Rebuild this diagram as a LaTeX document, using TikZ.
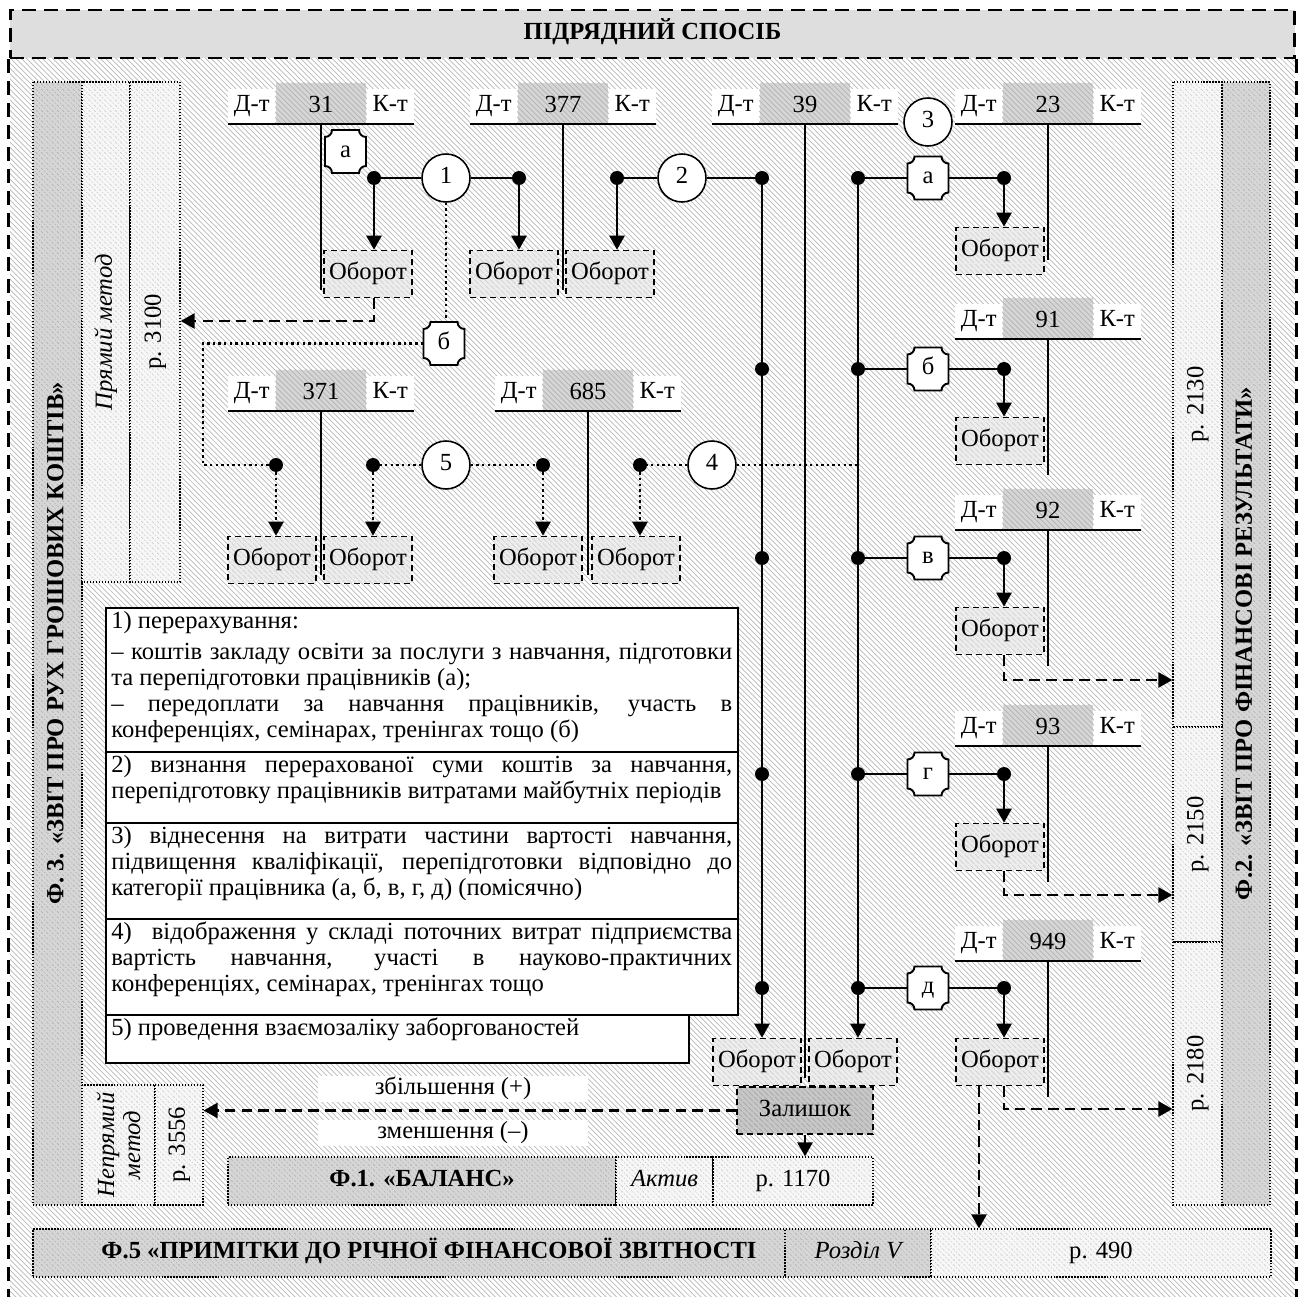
\documentclass[tikz,border=0pt]{standalone}
\usepackage{fontspec}
\setmainfont{Liberation Serif}
\usetikzlibrary{arrows.meta,calc,patterns}
\tolerance=10000
\hyphenpenalty=10000

\tikzset{
  oneline/.style={text height=9.6pt, text depth=3pt},
  hatch/.style={pattern=north west lines, pattern color=black!28},
  grayhatch/.style={preaction={fill=black!16}, pattern=north west lines, pattern color=black!30},
  lighthatch/.style={preaction={fill=black!3}, pattern=north west lines, pattern color=black!20},
  frame/.style={line width=1.6pt, dash pattern=on 8pt off 4.5pt},
  titlebox/.style={draw, frame, fill=black!13, font=\bfseries, minimum width=25.7cm, minimum height=0.96cm, inner sep=0pt, oneline},
  form/.style={draw, line width=0.7pt, densely dotted, inner sep=0pt},
  col/.style={form, rotate=90, oneline},
  row/.style={form, minimum height=0.96cm, oneline},
  acnum/.style={grayhatch, minimum width=1.8cm, minimum height=0.82cm, inner sep=0pt, text height=13.6pt, text depth=3pt},
  acside/.style={fill=white, minimum width=0.94cm, minimum height=0.7cm, inner sep=0pt, oneline},
  acline/.style={line width=0.9pt},
  obor/.style={draw, line width=0.9pt, dash pattern=on 3.5pt off 2.2pt, preaction={fill=black!7}, pattern=north west lines, pattern color=black!18, minimum width=1.76cm, minimum height=0.94cm, inner sep=0pt, oneline},
  zal/.style={draw, line width=0.9pt, dash pattern=on 3.5pt off 2.2pt, preaction={fill=black!22}, pattern=north west lines, pattern color=black!35, minimum width=2.72cm, minimum height=0.94cm, inner sep=0pt, oneline},
  numc/.style={circle, draw, fill=white, line width=0.9pt, minimum size=0.96cm, inner sep=0pt, oneline},
  dot/.style={circle, fill, minimum size=0.28cm, inner sep=0pt},
  lettr/.style={minimum width=0.82cm, minimum height=0.86cm, inner sep=0pt, oneline},
  lettrline/.style={line width=1.1pt, fill=white},
  conn/.style={line width=1.4pt},
  arr/.style={conn, -{Triangle[length=0.28cm, width=0.3cm]}},
  dasharr/.style={arr, dash pattern=on 6pt off 3.5pt},
  dotl/.style={line width=1.4pt, dash pattern=on 1.4pt off 1.8pt},
  dotarr/.style={dotl, -{Triangle[length=0.28cm, width=0.3cm]}},
  legbox/.style={draw, fill=white, line width=1.1pt, inner sep=0pt, anchor=north west},
  legtext/.style={anchor=north west, text width=12.42cm, align=justify, inner xsep=0.12cm, inner ysep=0.08cm},
  tag/.style={fill=white, minimum width=5.4cm, minimum height=0.52cm, inner sep=0pt, oneline}
}

% letter box with hollowed corners: name, position, letter
\newcommand\lettrbox[3]{%
  \draw[lettrline] (#2) ++(-20.5,21.5) ++(0,-7) arc[start angle=270, end angle=360, radius=7]
    -- ++(27,0) arc[start angle=180, end angle=270, radius=7]
    -- ++(0,-29) arc[start angle=90, end angle=180, radius=7]
    -- ++(-27,0) arc[start angle=0, end angle=90, radius=7] -- cycle;
  \node[lettr] (#1) at (#2) {#3};}

\begin{document}
\begin{tikzpicture}[x=0.02cm, y=0.02cm]
\fontsize{14}{14.8}\selectfont
\useasboundingbox (0,0) rectangle (1302,-1297);

% background and frame
\fill[hatch] (10,-58) rectangle (1295,-1297);
\node[titlebox] (title) at (652.5,-34) {ПІДРЯДНИЙ СПОСІБ};
\coordinate (bot) at (0,-1297);
\draw[frame] (title.south west) -- (title.south west |- bot);
\draw[frame] (title.south east) -- (title.south east |- bot);

% Ф.3 on the left
\node[col, grayhatch, minimum width=22.46cm, minimum height=0.98cm, font=\bfseries] (f3) at (57.5,-643.5) {Ф. 3. «ЗВІТ ПРО РУХ ГРОШОВИХ КОШТІВ»};
\node[col, lighthatch, minimum width=10cm, minimum height=0.96cm, font=\itshape] (pm) at (106,-332) {Прямий метод};
\node[col, lighthatch, minimum width=10cm, minimum height=1cm] (p3100) at (155,-332) {р. 3100};
\node[form, rotate=90, lighthatch, minimum width=2.4cm, minimum height=1.46cm, font=\itshape, align=center] (npm) at (118.5,-1145) {Непрямий\\метод};
\node[col, lighthatch, minimum width=2.4cm, minimum height=0.96cm] (p3556) at (179,-1145) {р. 3556};

% Ф.2 on the right
\node[col, grayhatch, minimum width=22.46cm, minimum height=0.96cm, font=\bfseries] (f2) at (1246,-643.5) {Ф.2. «ЗВІТ ПРО ФІНАНСОВІ РЕЗУЛЬТАТИ»};
\node[col, lighthatch, minimum width=12.9cm, minimum height=0.98cm] (p2130) at (1197.5,-404.5) {р. 2130};
\node[col, lighthatch, minimum width=4.3cm, minimum height=0.98cm] (p2150) at (1197.5,-834.5) {р. 2150};
\node[col, lighthatch, minimum width=5.26cm, minimum height=0.98cm] (p2180) at (1197.5,-1073.5) {р. 2180};

% Ф.1 and Ф.5 at the bottom
\node[row, grayhatch, minimum width=7.76cm, font=\bfseries] (bal) at (422,-1181) {Ф.1. «БАЛАНС»};
\node[row, lighthatch, minimum width=1.94cm, font=\itshape] (akt) at (664.5,-1181) {Актив};
\node[row, lighthatch, minimum width=3.2cm] (p1170) at (793,-1181) {р. 1170};
\node[row, grayhatch, minimum width=15.04cm, font=\bfseries] (f5) at (409,-1253) {\hspace*{0.8cm}Ф.5 «ПРИМІТКИ ДО РІЧНОЇ ФІНАНСОВОЇ ЗВІТНОСТІ};
\node[row, grayhatch, minimum width=2.92cm, font=\itshape] (rozd) at (858,-1253) {Розділ V};
\node[row, lighthatch, minimum width=6.8cm] (p490) at (1101,-1253) {р. 490};

% T-accounts
\foreach \nm/\x/\y/\num/\len in {t31/321/124/31/166, t377/563/124/377/166, t39/805/124/39/954,
    t23/1048/124/23/136, t91/1048/339/91/136, t92/1048/530/92/136, t93/1048/746/93/136,
    t949/1048/961/949/136, t371/321/411/371/164, t685/588/411/685/164} {
  \node[acnum, anchor=south] (\nm) at (\x,-\y) {\num};
  \node[acside, anchor=south east] (\nm-d) at (\nm.south west) {Д-т};
  \node[acside, anchor=south west] (\nm-k) at (\nm.south east) {К-т};
  \draw[acline] (\nm-d.south west) -- (\nm-k.south east);
  \draw[acline] (\nm.south) -- ++(0,-\len);
}

% legend
\node[legbox, minimum width=11.66cm, minimum height=0.96cm] (leg5) at (105,-1014) {};
\node[legbox, minimum width=12.64cm, minimum height=2.88cm] (leg1) at (105,-607) {};
\node[legbox, minimum width=12.64cm, minimum height=1.42cm] (leg2) at (105,-751) {};
\node[legbox, minimum width=12.64cm, minimum height=1.92cm] (leg3) at (105,-822) {};
\node[legbox, minimum width=12.64cm, minimum height=1.92cm] (leg4) at (105,-918) {};
\node[legtext] (leg1t) at (leg1.north west) {1) перерахування:\\[3pt]
  – коштів закладу освіти за послуги з навчання, підготовки\linebreak
  та перепідготовки працівників (а);\\
  – передоплати за навчання працівників, участь в\linebreak
  конференціях, семінарах, тренінгах тощо (б)};
\node[legtext] (leg2t) at (leg2.north west) {2) визнання перерахованої суми коштів за навчання,\linebreak
  перепідготовку працівників витратами майбутніх періодів};
\node[legtext] (leg3t) at (leg3.north west) {3) віднесення на витрати частини вартості навчання,\linebreak
  підвищення кваліфікації, перепідготовки відповідно до\linebreak
  категорії працівника (а, б, в, г, д) (помісячно)};
\node[legtext] (leg4t) at (leg4.north west) {4)\ \ відображення у складі поточних витрат підприємства\linebreak
  вартість навчання, участі в науково-практичних\linebreak
  конференціях, семінарах, тренінгах тощо};
\node[legtext, text width=11.4cm] (leg5t) at (leg5.north west) {5) проведення взаємозаліку заборгованостей};

% turnover boxes
\foreach \nm/\x/\y in {ob31/368/274, ob377d/514/274, ob377k/610/274, ob371d/272/560, ob371k/368/560,
    ob685d/538/560, ob685k/636/560, ob39d/757/1062, ob39k/853/1062, ob23/1000/251,
    ob91/1000/441, ob92/1000/631, ob93/1000/847, ob949/1000/1062}
  \node[obor] (\nm) at (\x,-\y) {Оборот};

\node[zal] (rest) at (805,-1110.5) {Залишок};
\node[tag] (inc) at (453,-1089) {збільшення (+)};
\node[tag] (dec) at (453,-1133) {зменшення (–)};

% operations
\foreach \nm/\x/\y/\t in {c1/446/178/1, c2/682/178/2, c3/928/122/3, c4/712/465/4, c5/446/465/5}
  \node[numc] (\nm) at (\x,-\y) {\t};

\foreach \nm/\x/\y in {d1a/374/178, d1b/519/178, d2a/617/178, d2b/762/178, dv1/762/369,
    dv2/762/558, dv3/762/774, dv4/762/988, d5a/276/465, d5b/373/465, d5c/543/465, d4a/640/465}
  \node[dot] (\nm) at (\x,-\y) {};

\lettrbox{la}{345.5,-151.5}{а}
\lettrbox{lb}{444,-343.5}{б}
\foreach \i/\l/\y in {1/а/178, 2/б/369, 3/в/558, 4/г/774, 5/д/988} {
  \node[dot] (ql\i) at (858,-\y) {};
  \node[dot] (qr\i) at (1004,-\y) {};
  \lettrbox{q\i}{928,-\y}{\l}
}

% solid connectors
\draw[conn] (c1) -- (d1a);
\draw[conn] (c1) -- (d1b);
\draw[arr] (d1a) -- (d1a |- ob31.north);
\draw[arr] (d1b) -- (d1b |- ob377d.north);
\draw[conn] (c2) -- (d2a);
\draw[conn] (c2) -- (d2b);
\draw[arr] (d2a) -- (d2a |- ob377k.north);
\draw[arr] (d2b) -- (d2b |- ob39d.north);
\draw[arr] (ql1) -- (ql1 |- ob39k.north);
\foreach \i/\acc in {1/23, 2/91, 3/92, 4/93, 5/949} {
  \draw[conn] (ql\i) -- (q\i) -- (qr\i);
  \draw[arr] (qr\i) -- (qr\i |- ob\acc.north);
}
\draw[arr] (rest.south) -- (rest.south |- p1170.north);

% dashed connectors
\coordinate (turn31) at (374,-321);
\draw[dasharr] (ob31.south -| turn31) -- (turn31) -- (turn31 -| p3100.south);
\coordinate (turn92) at (1004,-680);
\coordinate (turn93) at (1004,-895);
\coordinate (turn949) at (1004,-1109);
\draw[dasharr] (ob92.south -| turn92) -- (turn92) -- (turn92 -| p2130.north);
\draw[dasharr] (ob93.south -| turn93) -- (turn93) -- (turn93 -| p2150.north);
\draw[dasharr] (ob949.south -| turn949) -- (turn949) -- (turn949 -| p2180.north);
\coordinate (f5in) at ($(ob949.south)+(-21,0)$);
\draw[dasharr] (f5in) -- (f5in |- p490.north);
\draw[dasharr] (rest.west) -- (rest.west -| p3556.south);

% dotted connectors
\coordinate (turnb) at (203,-465);
\draw[dotl] (c1) -- (c1 |- lb.north);
\draw[dotl] (lb.west) -| (turnb) -- (d5a);
\draw[dotarr] (d5a) -- (d5a |- ob371d.north);
\draw[dotl] (c5) -- (d5b);
\draw[dotl] (c5) -- (d5c);
\draw[dotarr] (d5b) -- (d5b |- ob371k.north);
\draw[dotarr] (d5c) -- (d5c |- ob685d.north);
\draw[dotl] (c4) -- (d4a);
\draw[dotl] (c4) -- (c4 -| ql2);
\draw[dotarr] (d4a) -- (d4a |- ob685k.north);
\end{tikzpicture}
\end{document}
